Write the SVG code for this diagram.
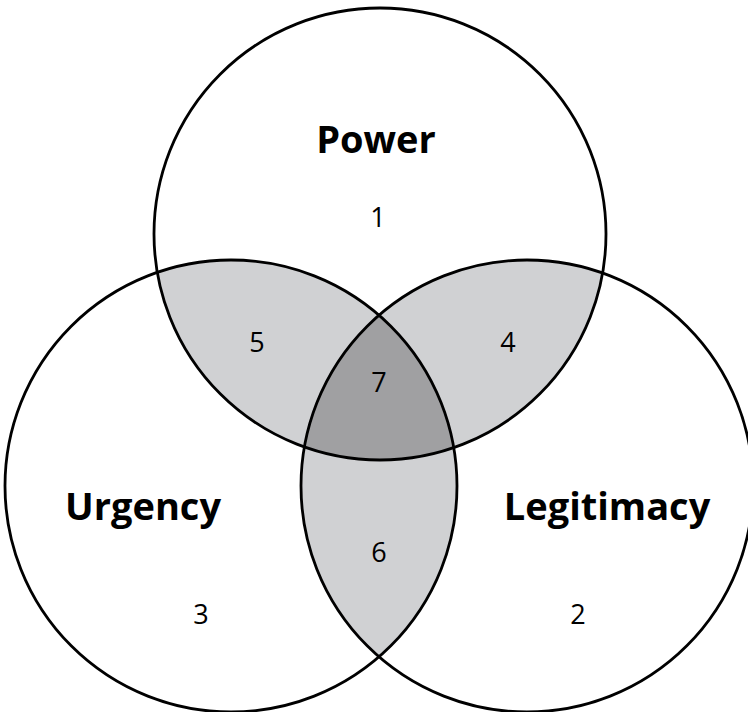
<svg xmlns="http://www.w3.org/2000/svg" width="748" height="712" viewBox="0 0 748 712">
<style>
.ring{fill:none;stroke:#000;stroke-width:2.8}
.lbl{font-family:"Open Sans","Noto Sans","Liberation Sans",sans-serif;font-weight:bold;font-size:38px;fill:#000;text-anchor:middle}
.num{font-family:"Open Sans","Noto Sans","Liberation Sans",sans-serif;font-size:27px;fill:#000;text-anchor:middle}
.light{fill:#d0d1d3}
.dark{fill:#a0a0a2}
</style>
<defs>
<clipPath id="cP"><circle cx="380" cy="234" r="226"/></clipPath>
<clipPath id="cU"><circle cx="231" cy="486" r="226"/></clipPath>
</defs>
<rect width="748" height="712" fill="#fff"/>
<g id="shading">
<g clip-path="url(#cP)">
<circle class="light" cx="231" cy="486" r="226"/>
<circle class="light" cx="527" cy="486" r="226"/>
</g>
<g clip-path="url(#cU)">
<circle class="light" cx="527" cy="486" r="226"/>
</g>
<g clip-path="url(#cP)"><g clip-path="url(#cU)">
<circle class="dark" cx="527" cy="486" r="226"/>
</g></g>
</g>
<g id="power">
<circle class="ring" cx="380" cy="234" r="226"/>
<text class="lbl" x="376" y="153">Power</text>
</g>
<g id="urgency">
<circle class="ring" cx="231" cy="486" r="226"/>
<text class="lbl" x="143" y="520">Urgency</text>
</g>
<g id="legitimacy">
<circle class="ring" cx="527" cy="486" r="226"/>
<text class="lbl" x="607" y="520">Legitimacy</text>
</g>
<g id="regions">
<text class="num" x="378" y="227">1</text>
<text class="num" x="578" y="624">2</text>
<text class="num" x="201" y="624">3</text>
<text class="num" x="508" y="352">4</text>
<text class="num" x="257" y="352">5</text>
<text class="num" x="379" y="562">6</text>
<text class="num" x="379" y="392">7</text>
</g>
<g id="connectors"></g>
</svg>
